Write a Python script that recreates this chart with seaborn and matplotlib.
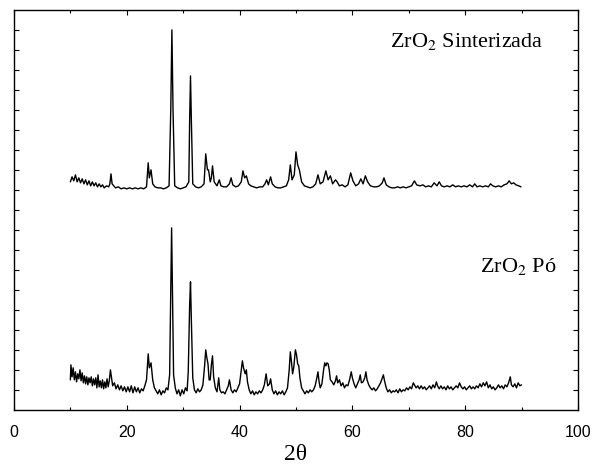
import numpy as np
import pandas as pd
import matplotlib
matplotlib.use('Agg')
import matplotlib.pyplot as plt
import seaborn as sns

# XRD patterns (2theta, intensity in arbitrary units, offset already applied)
sint_2theta = [10.0, 10.3, 10.6, 10.9, 11.2, 11.5, 11.8, 12.1, 12.4, 12.7, 13.0, 13.3, 13.6, 13.9,
               14.2, 14.5, 14.8, 15.1, 15.4, 15.7, 16.0, 16.4, 16.8, 17.0, 17.2, 17.4, 17.7, 18.0,
               18.5, 19.0, 19.5, 20.0, 20.5, 21.0, 21.5, 22.0, 22.5, 23.0, 23.5, 23.8, 24.0, 24.3,
               24.6, 25.0, 25.5, 26.0, 26.5, 27.0, 27.5, 27.8, 28.0, 28.2, 28.5, 29.0, 29.5, 30.0,
               30.5, 31.0, 31.15, 31.3, 31.45, 31.7, 32.2, 32.7, 33.2, 33.7, 34.0, 34.3, 34.5, 34.8,
               35.0, 35.2, 35.5, 36.0, 36.4, 36.7, 37.2, 37.7, 38.2, 38.5, 38.8, 39.3, 39.8, 40.3,
               40.6, 40.9, 41.2, 41.6, 42.0, 42.5, 43.0, 43.6, 44.1, 44.5, 44.8, 45.1, 45.5, 45.8,
               46.3, 46.8, 47.3, 47.8, 48.3, 48.7, 49.0, 49.3, 49.7, 50.0, 50.3, 50.6, 51.0, 51.5,
               52.0, 52.5, 53.0, 53.5, 53.9, 54.3, 54.8, 55.3, 55.7, 56.1, 56.5, 57.0, 57.3, 57.7,
               58.2, 58.7, 59.2, 59.7, 60.1, 60.6, 61.1, 61.5, 61.9, 62.3, 62.7, 63.2, 63.8, 64.3,
               64.8, 65.3, 65.6, 66.0, 66.5, 67.0, 67.5, 68.0, 68.5, 69.0, 69.5, 70.0, 70.5, 71.0,
               71.4, 72.0, 72.5, 73.0, 73.5, 74.0, 74.5, 75.0, 75.4, 75.8, 76.3, 76.8, 77.3, 77.8,
               78.3, 78.8, 79.3, 79.8, 80.3, 80.8, 81.3, 81.7, 82.1, 82.6, 83.1, 83.6, 84.1, 84.5,
               84.9, 85.4, 85.9, 86.4, 86.9, 87.4, 87.8, 88.2, 88.6, 89.0, 89.5, 89.9]
sint_int = [228, 233, 229, 235, 228, 232, 227, 231, 226, 230, 225, 229, 224, 228,
            224, 227, 223, 226, 223, 225, 222, 224, 223, 226, 236, 226, 224, 222,
            223, 221, 222, 221, 222, 221, 222, 221, 222, 221, 223, 247, 232, 240,
            226, 223, 222, 222, 221, 222, 224, 300, 380, 300, 224, 222, 221, 222,
            223, 228, 290, 334, 290, 226, 223, 222, 223, 226, 256, 240, 240, 228,
            232, 244, 228, 224, 230, 224, 223, 223, 226, 232, 225, 223, 224, 228,
            239, 232, 234, 226, 224, 223, 222, 223, 223, 226, 230, 225, 233, 226,
            223, 222, 222, 223, 224, 230, 245, 230, 235, 258, 245, 240, 228, 224,
            223, 222, 223, 226, 235, 226, 228, 239, 230, 234, 226, 230, 228, 224,
            225, 223, 225, 237, 229, 224, 226, 231, 226, 234, 228, 224, 223, 223,
            224, 227, 232, 225, 223, 222, 222, 223, 222, 223, 222, 223, 224, 229,
            225, 224, 225, 223, 224, 223, 227, 224, 228, 224, 223, 224, 223, 225,
            223, 224, 223, 224, 223, 225, 223, 226, 223, 224, 223, 224, 223, 226,
            224, 223, 224, 223, 225, 226, 229, 226, 227, 225, 224, 223]

po_2theta = [10.0, 10.1, 10.3, 10.5, 10.7, 10.9, 11.1, 11.3, 11.5, 11.7, 11.9, 12.1, 12.3, 12.5,
             12.7, 12.9, 13.1, 13.3, 13.5, 13.7, 13.9, 14.1, 14.3, 14.5, 14.7, 14.9, 15.1, 15.3,
             15.5, 15.7, 15.9, 16.1, 16.3, 16.5, 16.7, 16.9, 17.1, 17.3, 17.5, 17.8, 18.1, 18.4,
             18.7, 19.0, 19.3, 19.6, 19.9, 20.2, 20.5, 20.8, 21.1, 21.4, 21.7, 22.0, 22.3, 22.6,
             22.9, 23.2, 23.5, 23.8, 24.0, 24.3, 24.6, 24.9, 25.2, 25.5, 25.8, 26.1, 26.4, 26.7,
             27.0, 27.3, 27.6, 27.8, 27.95, 28.1, 28.3, 28.6, 28.9, 29.2, 29.5, 29.8, 30.1, 30.4,
             30.7, 30.9, 31.15, 31.3, 31.45, 31.7, 32.0, 32.3, 32.6, 32.9, 33.2, 33.5, 33.8, 34.0,
             34.2, 34.4, 34.6, 34.8, 35.0, 35.2, 35.4, 35.7, 36.0, 36.3, 36.5, 36.8, 37.1, 37.4,
             37.7, 38.0, 38.2, 38.5, 38.8, 39.1, 39.4, 39.7, 40.0, 40.3, 40.5, 40.7, 41.0, 41.2,
             41.4, 41.7, 42.0, 42.3, 42.6, 42.9, 43.2, 43.5, 43.8, 44.1, 44.4, 44.7, 45.0, 45.3,
             45.5, 45.8, 46.1, 46.4, 46.7, 47.0, 47.3, 47.6, 47.9, 48.2, 48.5, 48.8, 49.0, 49.2,
             49.4, 49.6, 49.9, 50.1, 50.3, 50.5, 50.7, 51.0, 51.3, 51.6, 51.9, 52.2, 52.5, 52.8,
             53.1, 53.4, 53.7, 53.9, 54.1, 54.3, 54.6, 54.9, 55.1, 55.3, 55.5, 55.7, 55.9, 56.1,
             56.4, 56.7, 57.0, 57.2, 57.4, 57.7, 58.0, 58.3, 58.6, 58.9, 59.2, 59.5, 59.8, 60.0,
             60.3, 60.6, 60.9, 61.2, 61.4, 61.6, 61.9, 62.2, 62.4, 62.6, 62.9, 63.2, 63.5, 63.8,
             64.1, 64.4, 64.7, 65.0, 65.3, 65.5, 65.7, 66.0, 66.3, 66.6, 66.9, 67.2, 67.5, 67.8,
             68.1, 68.4, 68.7, 69.0, 69.3, 69.6, 69.9, 70.2, 70.5, 70.8, 71.0, 71.3, 71.6, 71.9,
             72.2, 72.5, 72.8, 73.1, 73.4, 73.7, 74.0, 74.3, 74.6, 74.9, 75.1, 75.4, 75.7, 76.0,
             76.3, 76.6, 76.9, 77.2, 77.5, 77.8, 78.1, 78.4, 78.7, 79.0, 79.3, 79.6, 79.9, 80.2,
             80.5, 80.8, 81.1, 81.4, 81.7, 82.0, 82.3, 82.6, 82.9, 83.2, 83.5, 83.8, 84.1, 84.4,
             84.7, 85.0, 85.3, 85.6, 85.9, 86.2, 86.5, 86.8, 87.1, 87.4, 87.7, 88.0, 88.2, 88.5,
             88.8, 89.1, 89.4, 89.7, 90.0]
po_int = [30, 45, 33, 42, 30, 38, 28, 36, 31, 40, 29, 37, 27, 34,
          26, 33, 25, 32, 27, 33, 24, 31, 25, 32, 22, 35, 23, 29,
          22, 30, 21, 28, 22, 31, 23, 29, 40, 32, 24, 27, 21, 25,
          20, 24, 19, 23, 18, 23, 18, 24, 17, 23, 18, 22, 17, 21,
          19, 24, 30, 56, 42, 47, 30, 22, 19, 16, 20, 15, 19, 17,
          22, 20, 35, 120, 182, 120, 35, 22, 16, 20, 14, 20, 16, 22,
          19, 38, 105, 128, 90, 32, 20, 17, 21, 18, 20, 25, 44, 60,
          52, 46, 30, 30, 45, 54, 33, 22, 18, 32, 20, 17, 18, 16,
          20, 24, 30, 20, 17, 20, 18, 22, 26, 40, 49, 42, 36, 40,
          28, 20, 16, 19, 15, 18, 16, 19, 17, 20, 25, 36, 24, 26,
          31, 20, 16, 19, 15, 18, 16, 19, 15, 18, 22, 40, 58, 48,
          36, 42, 60, 55, 46, 44, 32, 22, 19, 16, 19, 17, 20, 18,
          20, 24, 32, 38, 28, 22, 26, 40, 47, 44, 47, 46, 40, 30,
          28, 25, 29, 34, 27, 30, 24, 27, 22, 25, 24, 30, 38, 32,
          26, 22, 26, 30, 35, 27, 28, 32, 38, 30, 25, 22, 20, 22,
          19, 21, 24, 27, 32, 35, 29, 22, 18, 20, 17, 19, 18, 20,
          17, 21, 18, 20, 19, 22, 20, 23, 21, 27, 25, 22, 24, 21,
          24, 21, 23, 20, 22, 24, 21, 25, 22, 28, 24, 21, 24, 21,
          23, 20, 24, 21, 23, 20, 22, 24, 22, 27, 23, 21, 23, 20,
          22, 24, 21, 23, 21, 24, 22, 26, 23, 27, 24, 28, 22, 25,
          21, 23, 20, 22, 25, 22, 24, 21, 25, 23, 27, 33, 25, 23,
          26, 22, 27, 24, 25]

labels = [r'ZrO$_2$ Sinterizada', r'ZrO$_2$ Pó']

df = pd.concat([
    pd.DataFrame({'2theta': sint_2theta, 'I': sint_int, 'amostra': labels[0]}),
    pd.DataFrame({'2theta': po_2theta, 'I': po_int, 'amostra': labels[1]}),
])

sns.set_style('ticks')
plt.rcParams['font.family'] = ['Liberation Sans', 'DejaVu Sans']
plt.rcParams['mathtext.fontset'] = 'stix'
plt.rcParams['text.color'] = 'black'
plt.rcParams['axes.labelcolor'] = 'black'
plt.rcParams['xtick.color'] = 'black'
plt.rcParams['ytick.color'] = 'black'

fig = plt.figure(figsize=(5.92, 4.70), dpi=100)
ax = fig.add_axes([0.0236, 0.128, 0.9527, 0.851])

sns.lineplot(data=df, x='2theta', y='I', units='amostra', estimator=None,
             color='black', lw=1.0, ax=ax)

ax.set_xlim(0, 100)
ax.set_ylim(0, 400)
ax.set_xticks([0, 20, 40, 60, 80, 100])
ax.set_xticks([10, 30, 50, 70, 90], minor=True)
ax.set_yticks(np.arange(20, 400, 20))
ax.set_yticklabels([])
ax.tick_params(direction='in', top=True, right=True, length=3.5, width=0.8,
               labelsize=11.5, pad=11)
ax.tick_params(which='minor', direction='in', top=True, right=True, length=2.5, width=0.8)
for s in ax.spines.values():
    s.set_linewidth(1.0)
    s.set_color('black')

ax.set_xlabel('2θ', family='Liberation Serif', fontsize=17, labelpad=3)
ax.set_ylabel('')

ax.text(80.3, 368, labels[0], family='Liberation Serif',
        fontsize=16, ha='center', va='center')
ax.text(89.4, 143, labels[1], family='Liberation Serif',
        fontsize=16, ha='center', va='center')

fig.savefig('out.png', dpi=100)
